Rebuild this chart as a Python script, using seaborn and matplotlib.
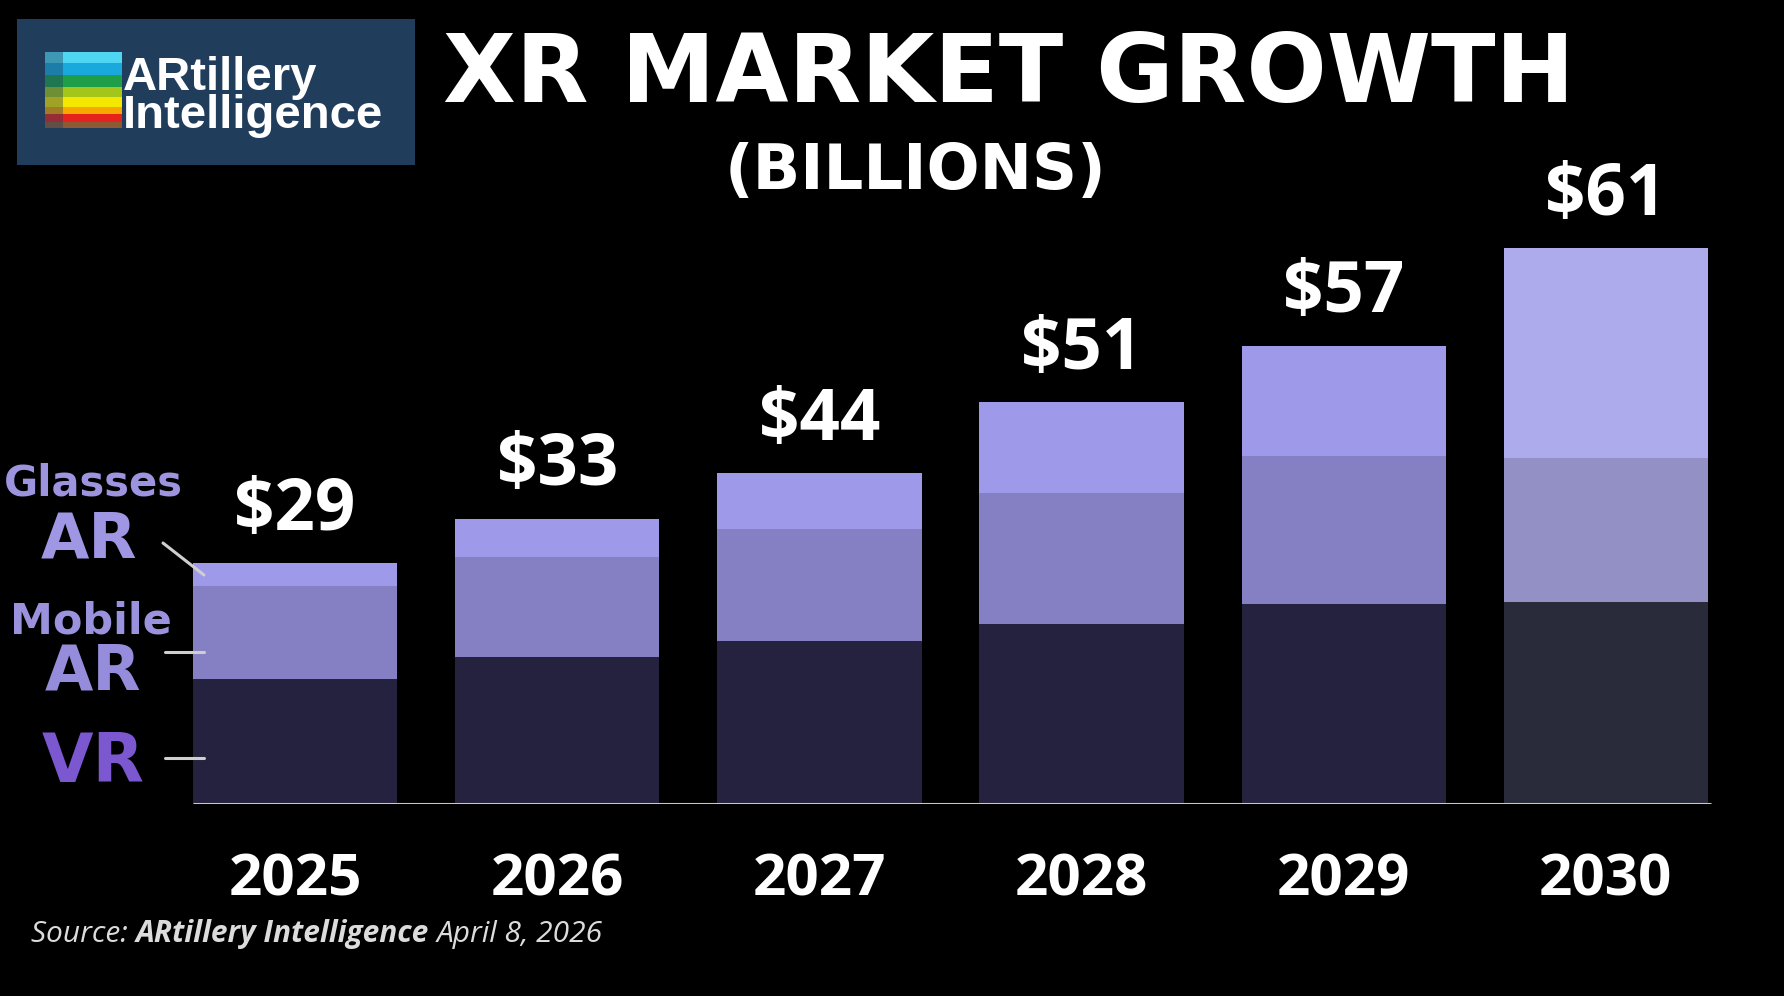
import matplotlib
matplotlib.use("Agg")
import matplotlib.pyplot as plt
import seaborn as sns
import pandas as pd
from matplotlib.patches import Rectangle
from matplotlib.lines import Line2D

# Data (segment heights as drawn, in billions)
years = ["2025", "2026", "2027", "2028", "2029", "2030"]
vr = [13.7, 16.1, 17.9, 19.7, 21.9, 22.2]
mobile_ar = [10.2, 11.0, 12.3, 14.4, 16.3, 15.8]
glasses_ar = [2.5, 4.2, 6.1, 10.0, 12.1, 23.0]
total_labels = [29, 33, 44, 51, 57, 61]

vr_colors = ["#24223e"] * 5 + ["#292b3b"]
mobile_colors = ["#8580c4"] * 5 + ["#9290c5"]
glasses_colors = ["#9f99ea"] * 5 + ["#aeabed"]

W, H = 1784, 996

df = pd.DataFrame({"year": years, "vr": vr, "mobile": mobile_ar, "glasses": glasses_ar})
df["vr_mobile"] = df["vr"] + df["mobile"]
df["total"] = df["vr_mobile"] + df["glasses"]

sns.set_style("dark", {"axes.facecolor": "black", "figure.facecolor": "black"})
plt.rcParams["font.family"] = ["DejaVu Sans"]


def fx(px):
    return px / W


def fy(py):
    return 1 - py / H


fig = plt.figure(figsize=(W / 100, H / 100), dpi=100)
ax = fig.add_axes([fx(164), fy(804), 1573 / W, 729 / H])

# stacked bars drawn from the top layer down
for col, pal in [("total", glasses_colors), ("vr_mobile", mobile_colors), ("vr", vr_colors)]:
    sns.barplot(data=df, x="year", y=col, hue="year", palette=pal, width=0.78,
                saturation=1, linewidth=0, legend=False, ax=ax)

ax.hlines(0, -0.39, 5.4, color="#c8c8c8", lw=2.2, zorder=5)
ax.set_xlim(-0.5, 5.5)
ax.set_ylim(0, 80)
ax.set_xlabel("")
ax.set_ylabel("")
ax.set_yticks([])
ax.tick_params(axis="x", length=0, pad=34, labelsize=42, labelcolor="white")
for lbl in ax.get_xticklabels():
    lbl.set_fontfamily("Open Sans")
    lbl.set_fontweight("bold")
for s in ax.spines.values():
    s.set_visible(False)
ax.grid(False)

# totals above bars
for i, (t, v) in enumerate(zip(df["total"], total_labels)):
    ax.annotate(f"${v}", (i, t), xytext=(0, 24), textcoords="offset points",
                ha="center", va="baseline", color="white", fontsize=51,
                fontweight="bold", fontfamily="Open Sans")

# title
fig.text(fx(1009), fy(102), "XR MARKET GROWTH", ha="center", va="baseline",
         color="white", fontsize=68, fontweight="bold")
fig.text(fx(915), fy(189), "(BILLIONS)", ha="center", va="baseline",
         color="white", fontsize=45, fontweight="bold")

# left series labels
side_labels = [
    ("Glasses", 93, 495, 30, "#9c94df"),
    ("AR", 89, 557, 45, "#9f97e3"),
    ("Mobile", 91, 633, 31, "#9a92dc"),
    ("AR", 93, 690, 45, "#958ddb"),
    ("VR", 93, 782, 48, "#7b58cf"),
]
for txt, x, y, size, c in side_labels:
    fig.text(fx(x), fy(y), txt, ha="center", va="baseline", color=c,
             fontsize=size, fontweight="bold")

for (x0, y0), (x1, y1) in [((163, 543), (204, 575)), ((165, 652), (204, 652)),
                           ((165, 758), (204, 758))]:
    fig.add_artist(Line2D([fx(x0), fx(x1)], [fy(y0), fy(y1)], color="#cfcfcf",
                          lw=2.2, transform=fig.transFigure, zorder=10))

# logo
fig.add_artist(Rectangle((fx(17), fy(165)), 398 / W, 146 / H, facecolor="#213d5c",
                         edgecolor="none", transform=fig.transFigure))
stripes = [("#4fd6f2", 52, 63), ("#19a9dc", 63, 75), ("#1f9e4a", 75, 87),
           ("#a4c61a", 87, 97), ("#f4e700", 97, 107), ("#f6a800", 107, 114),
           ("#e5221c", 114, 122), ("#8c5a35", 122, 128)]
for c, t, b in stripes:
    fig.add_artist(Rectangle((fx(63), fy(b)), 59 / W, (b - t) / H, facecolor=c,
                             edgecolor="none", transform=fig.transFigure))
    fig.add_artist(Rectangle((fx(45), fy(b)), 18 / W, (b - t) / H, facecolor=c,
                             edgecolor="none", alpha=0.6, transform=fig.transFigure))
fig.text(fx(123), fy(128), "ARtillery\nIntelligence", color="white", fontsize=34,
         fontweight="bold", fontfamily="Liberation Sans", va="baseline",
         linespacing=0.82)

# source line with mixed weights
renderer = fig.canvas.get_renderer()
x = fx(31)
for part, weight in [("Source: ", "normal"), ("ARtillery Intelligence ", "bold"),
                     ("April 8, 2026", "normal")]:
    t = fig.text(x, fy(942), part, color="#dcdcdc", fontsize=21.5, fontstyle="italic",
                 fontweight=weight, fontfamily="Open Sans", va="baseline")
    bb = t.get_window_extent(renderer)
    x += bb.width / W

fig.savefig("out.png", dpi=100, facecolor="black")
